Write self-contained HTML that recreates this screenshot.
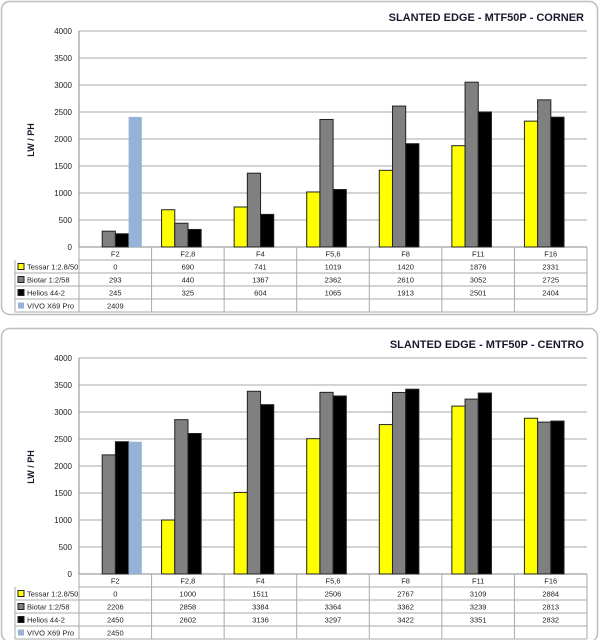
<!DOCTYPE html>
<html><head><meta charset="utf-8"><style>
html,body{margin:0;padding:0;background:#fff;width:600px;height:640px;overflow:hidden}
svg{display:block;font-family:"Liberation Sans",sans-serif}
</style></head><body>
<svg id="s" width="600" height="640" xmlns="http://www.w3.org/2000/svg"></svg>
<script>
const categories=["F2","F2,8","F4","F5,6","F8","F11","F16"];
const seriesNames=["Tessar 1:2.8/50","Biotar 1:2/58","Helios 44-2","VIVO X69 Pro"];
const seriesColors=["#ffff00","#808080","#000000","#95b3d7"];
const yTicks=[0,500,1000,1500,2000,2500,3000,3500,4000];
const cornerTessar=[0,690,741,1019,1420,1876,2331];
const cornerBiotar=[293,440,1367,2362,2610,3052,2725];
const cornerHelios=[245,325,604,1065,1913,2501,2404];
const cornerVivo=[2409];
const centroTessar=[0,1000,1511,2506,2767,3109,2884];
const centroBiotar=[2206,2858,3384,3364,3362,3239,2813];
const centroHelios=[2450,2602,3136,3297,3422,3351,2832];
const centroVivo=[2450];
const NS="http://www.w3.org/2000/svg";
const svg=document.getElementById('s');
function mk(tag,attrs,parent,txt){const e=document.createElementNS(NS,tag);for(const k in attrs)e.setAttribute(k,attrs[k]);if(txt!==undefined)e.textContent=txt;parent.appendChild(e);return e;}
function chart(top,title,series,name){
  const g=mk('g',{},svg);
  
  
  const card=mk('rect',{x:1.5,y:top+1.5,width:596,height:313,rx:8,fill:'#fff',stroke:'#bdbdbd','stroke-width':1.5},g);
  
  
  const t=mk('text',{x:584,y:top+21,'text-anchor':'end','font-size':11,'font-weight':'bold',fill:'#1a1a2e'},g,title);
  
  
  const L=79,R=587,y0=top+247,y1=top+31;
  const ys=v=>y0-(v/4000)*(y0-y1);
  const cw=(R-L)/categories.length;
  yTicks.forEach(v=>{
    const ln=mk('line',{x1:L,x2:R,y1:ys(v),y2:ys(v),stroke:v===0?'#888':'#aaa','stroke-width':1},g);
    
    
    const tx=mk('text',{x:72,y:ys(v)+3,'text-anchor':'end','font-size':8,fill:'#222'},g,v);
    
    
  });
  mk('line',{x1:L,x2:L,y1:y1,y2:y0,stroke:'#888'},g);
  const at=mk('text',{transform:`translate(34,${top+140}) rotate(-90)`,'text-anchor':'middle','font-size':9,'font-weight':'bold',fill:'#1a1a2e'},g,'LW / PH');
  
  
  const bw=13.2;
  series.forEach((vals,si)=>{
    vals.forEach((v,ci)=>{
      if(v<=0)return;
      const x=L+ci*cw+10+si*bw;
      const b=mk('rect',{x:x,y:ys(v),width:bw,height:y0-ys(v),fill:seriesColors[si],stroke:si===3?'none':'#222','stroke-width':1},g);
      
      
    });
  });
  const rh=13,tb=y0+rh*5;
  mk('line',{x1:L,x2:R,y1:y0+rh,y2:y0+rh,stroke:'#aaa'},g);
  for(let r=1;r<=4;r++)mk('line',{x1:15,x2:R,y1:y0+rh*(r+1),y2:y0+rh*(r+1),stroke:'#aaa'},g);
  mk('line',{x1:15,x2:15,y1:y0+rh,y2:tb,stroke:'#aaa'},g);
  for(let c=0;c<=categories.length;c++)mk('line',{x1:L+c*cw,x2:L+c*cw,y1:y0,y2:tb,stroke:'#aaa'},g);
  categories.forEach((c,ci)=>{
    const tx=mk('text',{x:L+ci*cw+cw/2,y:y0+9.5,'text-anchor':'middle','font-size':7.5,fill:'#222'},g,c);
    
    
  });
  series.forEach((vals,si)=>{
    const ry=y0+rh*(si+1);
    const sw=mk('rect',{x:18,y:ry+3.5,width:6,height:6,fill:seriesColors[si],stroke:si===3?'none':'#222','stroke-width':1},g);
    
    
    const lt=mk('text',{x:27,y:ry+9.5,'font-size':7.5,fill:'#222'},g,seriesNames[si]);
    
    
    vals.forEach((v,ci)=>{
      const tx=mk('text',{x:L+ci*cw+cw/2,y:ry+9.5,'text-anchor':'middle','font-size':7.5,fill:'#222'},g,v);
      
      
    });
  });
}
chart(0,'SLANTED EDGE - MTF50P - CORNER',[cornerTessar,cornerBiotar,cornerHelios,cornerVivo],'corner-chart');
chart(327,'SLANTED EDGE - MTF50P - CENTRO',[centroTessar,centroBiotar,centroHelios,centroVivo],'centro-chart');
</script>
</body></html>
